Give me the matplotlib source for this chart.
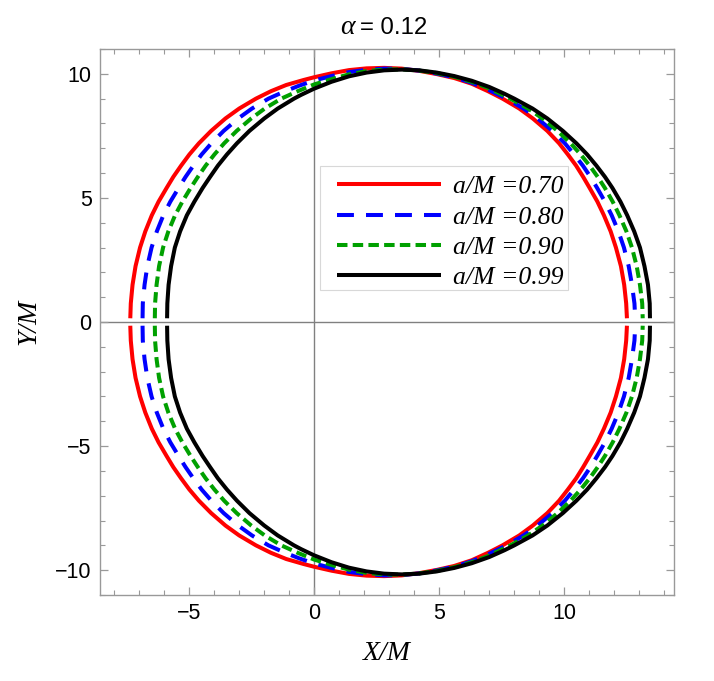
import numpy as np
import matplotlib
matplotlib.use("Agg")
import matplotlib.pyplot as plt
from matplotlib.ticker import MultipleLocator
from matplotlib.patches import Rectangle

plt.rcParams['font.family'] = ['Liberation Sans', 'DejaVu Sans']
plt.rcParams['mathtext.fontset'] = 'stix'

# ---- data (upper half of each shadow; lower half is the mirror image) ----
labels = ['a/M =0.70', 'a/M =0.80', 'a/M =0.90', 'a/M =0.99']
colors = ['#ff0000', '#0000ff', '#00a000', '#000000']

red_x = [-7.34, -7.32, -7.25, -7.13, -6.95, -6.74, -6.48, -6.21, -5.89, -5.62,
         -5.31, -4.98, -4.60, -4.11, -3.54, -2.99, -2.32, -1.72, -1.11, -0.42,
         0.0, 0.7, 1.4, 2.1, 2.8, 3.5, 4.2, 4.9, 5.6, 6.3,
         6.95, 7.53, 8.20, 8.74, 9.32, 9.79, 10.14, 10.47, 10.75, 11.01, 11.32,
         11.58, 11.85, 12.06, 12.26, 12.39, 12.47, 12.50]
red_y = [0.15, 0.75, 1.5, 2.25, 3.0, 3.65, 4.3, 4.85, 5.4, 5.85,
         6.3, 6.75, 7.2, 7.7, 8.2, 8.6, 9.0, 9.3, 9.55, 9.75,
         9.86, 10.02, 10.15, 10.22, 10.24, 10.21, 10.12, 9.99, 9.83, 9.60,
         9.3, 9.0, 8.6, 8.2, 7.7, 7.2, 6.75, 6.3, 5.85, 5.4, 4.85,
         4.3, 3.65, 3.0, 2.25, 1.5, 0.75, 0.15]

blue_x = [-6.85, -6.84, -6.77, -6.66, -6.49, -6.28, -6.02, -5.74, -5.41, -5.13,
          -4.82, -4.49, -4.10, -3.61, -3.03, -2.48, -1.82, -1.20, -0.60,
          0.0, 0.7, 1.4, 2.1, 2.8, 3.5, 4.2, 4.9, 5.6, 6.3, 7.0,
          7.69, 8.37, 8.93, 9.52, 10.02, 10.39, 10.74, 11.04, 11.31, 11.62,
          11.89, 12.16, 12.38, 12.57, 12.70, 12.80, 12.83]
blue_y = [0.15, 0.75, 1.5, 2.25, 3.0, 3.65, 4.3, 4.85, 5.4, 5.85,
          6.3, 6.75, 7.2, 7.7, 8.2, 8.6, 9.0, 9.28, 9.52,
          9.73, 9.91, 10.07, 10.16, 10.21, 10.20, 10.13, 10.01, 9.86, 9.64, 9.34,
          9.0, 8.6, 8.2, 7.7, 7.2, 6.75, 6.3, 5.85, 5.4, 4.85,
          4.3, 3.65, 3.0, 2.25, 1.5, 0.75, 0.15]

green_x = [-6.36, -6.35, -6.29, -6.19, -6.03, -5.82, -5.55, -5.26, -4.93, -4.64,
           -4.33, -3.98, -3.59, -3.09, -2.51, -1.97, -1.31, -0.65,
           0.0, 0.7, 1.4, 2.1, 2.8, 3.5, 4.2, 4.9, 5.6, 6.3, 7.0,
           7.84, 8.55, 9.13, 9.73, 10.25, 10.65, 11.01, 11.33, 11.62, 11.93,
           12.20, 12.48, 12.70, 12.89, 13.02, 13.11, 13.13]
green_y = [0.15, 0.75, 1.5, 2.25, 3.0, 3.65, 4.3, 4.85, 5.4, 5.85,
           6.3, 6.75, 7.2, 7.7, 8.2, 8.6, 9.0, 9.30,
           9.57, 9.79, 9.98, 10.11, 10.17, 10.18, 10.13, 10.03, 9.88, 9.68, 9.41,
           9.0, 8.6, 8.2, 7.7, 7.2, 6.75, 6.3, 5.85, 5.4, 4.85,
           4.3, 3.65, 3.0, 2.25, 1.5, 0.75, 0.15]

black_x = [-5.87, -5.86, -5.81, -5.71, -5.56, -5.35, -5.08, -4.78, -4.45, -4.15,
           -3.84, -3.48, -3.08, -2.58, -1.99, -1.45, -0.80, -0.52,
           0.0, 0.7, 1.4, 2.1, 2.8, 3.5, 4.2, 4.9, 5.6, 6.3, 7.0, 7.6,
           8.00, 8.73, 9.32, 9.94, 10.48, 10.91, 11.28, 11.62, 11.92, 12.24,
           12.51, 12.79, 13.02, 13.20, 13.34, 13.41, 13.42]
black_y = [0.15, 0.75, 1.5, 2.25, 3.0, 3.65, 4.3, 4.85, 5.4, 5.85,
           6.3, 6.75, 7.2, 7.7, 8.2, 8.6, 9.0, 9.15,
           9.40, 9.68, 9.90, 10.05, 10.14, 10.17, 10.14, 10.05, 9.91, 9.72, 9.47, 9.20,
           9.0, 8.6, 8.2, 7.7, 7.2, 6.75, 6.3, 5.85, 5.4, 4.85,
           4.3, 3.65, 3.0, 2.25, 1.5, 0.75, 0.15]

curves = [(red_x, red_y), (blue_x, blue_y), (green_x, green_y), (black_x, black_y)]
dashes = [None, (4.2, 3.0), (2.6, 1.3), None]

x_ticks = [-5, 0, 5, 10]
y_ticks = [-10, -5, 0, 5, 10]

# ---- figure ----
W, H = 714, 681
fig = plt.figure(figsize=(W / 100, H / 100), dpi=100)
ax = fig.add_axes([100/W, 86/H, 574/W, 546/H])
ax.set_xlim(-8.55, 14.38)
ax.set_ylim(-11, 11)

ax.axhline(0, color='#808080', lw=1.0, zorder=1)
ax.axvline(0, color='#808080', lw=1.0, zorder=1)

lw = 2.9
handles = []
for (xs, ys), c, d, lab in zip(curves, colors, dashes, labels):
    xs = np.asarray(xs); ys = np.asarray(ys)
    kw = dict(color=c, lw=lw, solid_capstyle='butt', dash_capstyle='butt',
              solid_joinstyle='round', zorder=3)
    if d is not None:
        kw['dashes'] = d
    h, = ax.plot(xs, ys, label=lab, **kw)
    ax.plot(xs, -ys, **kw)
    handles.append(h)

# legend box (frame drawn separately so the inner padding matches)
box = Rectangle((320/W, (H - 290)/H), 248/W, 124/H, transform=fig.transFigure,
                facecolor='white', edgecolor='#d8d8d8', lw=0.8, zorder=4,
                clip_on=False)
ax.add_patch(box)
leg = ax.legend(handles=handles, loc='upper left',
                bbox_to_anchor=((337 - 100)/574, (595 - 175.5)/546),
                prop={'family': 'Liberation Serif', 'style': 'italic', 'size': 18.5},
                handlelength=4.05, handletextpad=0.45, labelspacing=0.28,
                borderaxespad=0, borderpad=0, frameon=False)
leg.set_zorder(5)

ax.set_xticks(x_ticks)
ax.set_yticks(y_ticks)
ax.xaxis.set_minor_locator(MultipleLocator(1))
ax.yaxis.set_minor_locator(MultipleLocator(1))
ax.tick_params(which='both', direction='in', top=True, right=True, color='#999999',
               labelsize=15.5, labelcolor='black', pad=6)
ax.tick_params(which='major', length=6, width=0.9)
ax.tick_params(which='minor', length=3.5, width=0.8)
for s in ax.spines.values():
    s.set_color('#999999')
    s.set_linewidth(1.0)

ax.set_xlabel('X/M', family='Liberation Serif', style='italic', fontsize=20, labelpad=12)
ax.set_ylabel('Y/M', family='Liberation Serif', style='italic', fontsize=20, labelpad=10)

# title: italic alpha followed by "= 0.12"
fig.text(340/W, (H - 33.5)/H, 'α', family='Liberation Serif', style='italic',
         fontsize=20, va='baseline', ha='left')
fig.text(360/W, (H - 33.5)/H, '= 0.12', fontsize=17.3, va='baseline', ha='left')

fig.savefig('out.png', dpi=100)
